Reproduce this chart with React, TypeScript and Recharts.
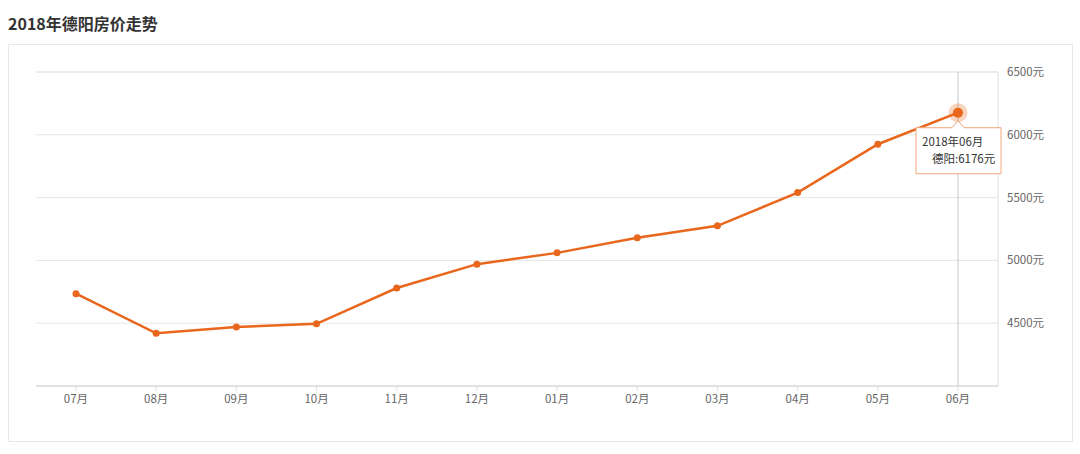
import React from 'react';
import {
  LineChart,
  Line,
  XAxis,
  YAxis,
  CartesianGrid,
  ReferenceLine,
  ReferenceDot,
} from 'recharts';

const months = ['07月', '08月', '09月', '10月', '11月', '12月', '01月', '02月', '03月', '04月', '05月', '06月'];
const prices = [4735, 4420, 4470, 4495, 4780, 4970, 5060, 5180, 5275, 5540, 5925, 6176];
const yTicks = [4500, 5000, 5500, 6000, 6500];
const seriesName = '德阳';
const title = '2018年德阳房价走势';
const highlightIndex = 11;
const highlightLabel = '2018年06月';

const data = months.map((m, i) => ({ month: m, price: prices[i] }));

const ORANGE = '#e8671c';
const FONT = '"Noto Sans CJK SC", "Noto Sans", sans-serif';

// static tooltip + halo on the last point, like the screenshot
const HighlightShape = (props: any) => {
  const { cx, cy } = props;
  if (cx == null || cy == null) return null;
  const bx = cx - 42;
  const by = cy + 15;
  const bw = 85;
  const bh = 46;
  return (
    <g>
      <circle cx={cx} cy={cy} r={9.5} fill={ORANGE} fillOpacity={0.28} />
      <circle cx={cx} cy={cy} r={5} fill={ORANGE} />
      <path
        d={`M${bx},${by} L${cx - 6},${by} L${cx},${by - 7} L${cx + 6},${by} L${bx + bw},${by} L${bx + bw},${by + bh} L${bx},${by + bh} Z`}
        fill="#fff"
        stroke="#f0a77c"
        strokeWidth={1}
      />
      <text x={cx - 36} y={cy + 33} fontSize={11.5} fill="#333" fontFamily={FONT}>
        {highlightLabel}
      </text>
      <text x={cx - 26} y={cy + 50} fontSize={11.5} fill="#333" fontFamily={FONT}>
        {`${seriesName}:${prices[highlightIndex]}元`}
      </text>
    </g>
  );
};

export default function App() {
  return (
    <div style={{ position: 'absolute', left: 0, top: 0, width: 1080, height: 454, background: '#fff', fontFamily: FONT }}>
      <div
        style={{
          position: 'absolute',
          left: 8,
          top: 12,
          fontSize: 16,
          lineHeight: '22px',
          fontWeight: 'bold',
          color: '#333',
        }}
      >
        {title}
      </div>
      <div
        style={{
          position: 'absolute',
          left: 8,
          top: 44,
          width: 1063,
          height: 396,
          border: '1px solid #e8e8e8',
        }}
      />
      <div style={{ position: 'absolute', left: 0, top: 0 }}>
        <LineChart width={1080} height={454} data={data} margin={{ top: 72, left: 36, right: 0, bottom: 0 }}>
          <CartesianGrid horizontal vertical={false} stroke="#e6e6e6" />
          <ReferenceLine y={6500} stroke="#f0dede" />
          <XAxis
            dataKey="month"
            height={68}
            padding={{ left: 40, right: 40 }}
            interval={0}
            tickSize={5}
            tickMargin={4}
            axisLine={{ stroke: '#d0d0d0' }}
            tickLine={{ stroke: '#e0e0e0' }}
            tick={{ fontSize: 11.5, fill: '#666', fontFamily: FONT }}
          />
          <YAxis
            orientation="right"
            width={82}
            domain={[4000, 6500]}
            ticks={yTicks}
            tickFormatter={(v: number) => `${v}元`}
            tickLine={false}
            tickSize={6}
            tickMargin={3}
            axisLine={{ stroke: '#e0e0e0' }}
            tick={{ fontSize: 11.5, fill: '#666', fontFamily: FONT }}
          />
          <ReferenceLine x={months[highlightIndex]} stroke="#c8c8c8" />
          <Line
            type="linear"
            dataKey="price"
            name={seriesName}
            stroke={ORANGE}
            strokeWidth={2.5}
            dot={{ r: 3.5, fill: ORANGE, stroke: ORANGE, strokeWidth: 0 }}
            activeDot={false}
            isAnimationActive={false}
          />
          <ReferenceDot
            x={months[highlightIndex]}
            y={prices[highlightIndex]}
            shape={HighlightShape}
          />
        </LineChart>
      </div>
    </div>
  );
}
